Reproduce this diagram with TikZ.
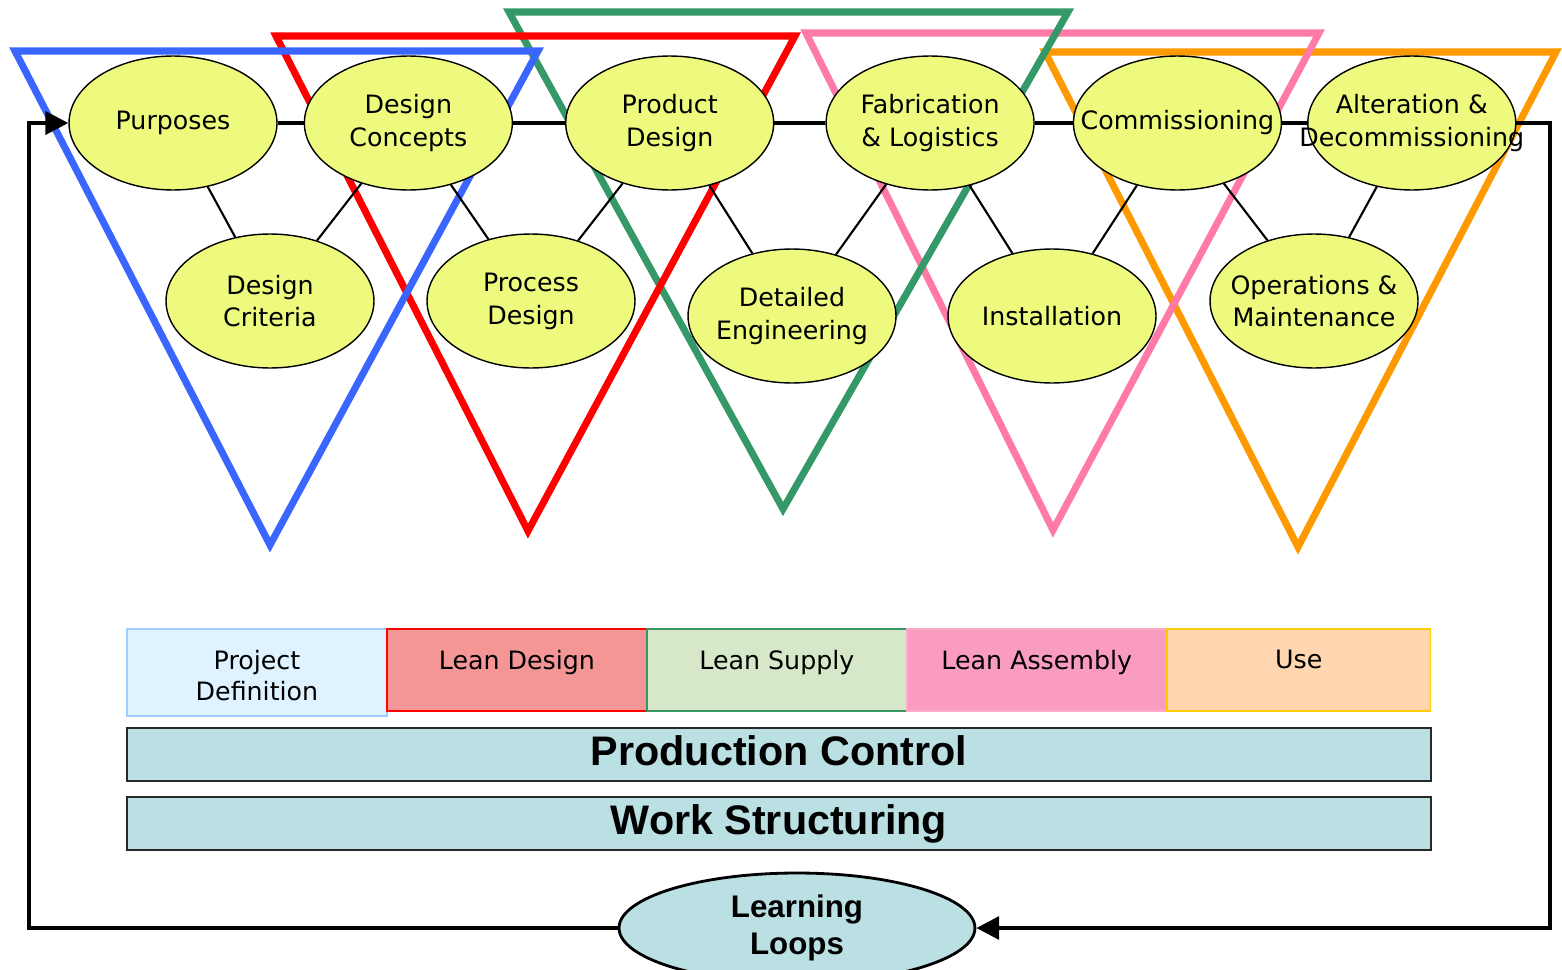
\documentclass[tikz,border=0pt]{standalone}
\usepackage{fontspec}
\usepackage{tikz}
\usetikzlibrary{positioning,shapes.geometric,arrows.meta,backgrounds}

\newfontfamily\stagefont{DejaVu Sans}
\newfontfamily\barfont{Liberation Sans}

\definecolor{stagefill}{RGB}{238,250,125}
\definecolor{triblue}{RGB}{58,102,255}
\definecolor{trired}{RGB}{255,0,0}
\definecolor{trigreen}{RGB}{52,152,104}
\definecolor{tripink}{RGB}{255,122,166}
\definecolor{triorange}{RGB}{255,153,0}
\definecolor{barfill}{RGB}{186,224,227}
\definecolor{barline}{RGB}{40,40,40}
\definecolor{pdfill}{RGB}{222,242,255}
\definecolor{pdline}{RGB}{160,205,255}
\definecolor{ldfill}{RGB}{244,150,150}
\definecolor{lsfill}{RGB}{214,232,200}
\definecolor{lsline}{RGB}{60,150,100}
\definecolor{lafill}{RGB}{250,155,192}
\definecolor{laline}{RGB}{255,170,200}
\definecolor{usefill}{RGB}{255,214,176}
\definecolor{useline}{RGB}{255,204,0}

\begin{document}
\begin{tikzpicture}[x=0.02cm,y=-0.02cm,
	stage/.style={ellipse,draw,line width=0.8pt,fill=stagefill,minimum width=4.16cm,minimum height=2.68cm,inner sep=0pt},
	stagetxt/.style={align=center,inner sep=0pt,font=\stagefont\fontsize{14.4}{18.7}\selectfont},
	link/.style={draw,line width=1.2pt},
	chain/.style={draw,line width=2pt},
	tri/.style={line width=4pt},
	phase/.style={rectangle,draw,line width=0.8pt,anchor=north west,outer sep=0pt,minimum width=5.2cm,minimum height=1.64cm,inner sep=0pt},
	phasetxt/.style={anchor=north,yshift=-8.5pt,align=center,font=\stagefont\fontsize{14.4}{17.6}\selectfont},
	bar/.style={rectangle,draw=barline,line width=1.5pt,fill=barfill,minimum width=26.08cm,minimum height=1.06cm,inner sep=0pt,text height=17pt,text depth=5pt,font=\barfont\bfseries\fontsize{23.5}{28}\selectfont},
	loopnode/.style={ellipse,draw,line width=1.6pt,fill=barfill,minimum width=7.12cm,minimum height=2.2cm,inner sep=0pt,align=center,font=\barfont\bfseries\fontsize{17.8}{21}\selectfont},
	loopline/.style={line width=2.2pt,-{Triangle[length=13pt,width=13pt]}}]
	\useasboundingbox (0,0) rectangle (1562,970);

	% stages of the delivery system
	\node[stage,label={[stagetxt]center:Purposes}] (s_0) at (173,123) {};
	\node[stage,right=0.52cm of s_0,label={[stagetxt]center:{Design\\Concepts}}] (s_1) {};
	\node[stage,right=1.04cm of s_1,label={[stagetxt]center:{Product\\Design}}] (s_2) {};
	\node[stage,right=1.02cm of s_2,label={[stagetxt]center:{Fabrication\\\& Logistics}}] (s_3) {};
	\node[stage,right=0.76cm of s_3,label={[stagetxt]center:Commissioning}] (s_4) {};
	\node[stage,right=0.50cm of s_4,label={[stagetxt]center:{Alteration \&\\Decommissioning}}] (s_5) {};

	\node[stage,label={[stagetxt]center:{Design\\Criteria}}] (b_0) at (270,301) {};
	\node[stage,label={[stagetxt]center:{Process\\Design}}] (b_1) at (531,301) {};
	\node[stage,label={[stagetxt]center:{Detailed\\Engineering}}] (b_2) at (792,316) {};
	\node[stage,label={[stagetxt]center:Installation}] (b_3) at (1052,316) {};
	\node[stage,label={[stagetxt]center:{Operations \&\\Maintenance}}] (b_4) at (1314,301) {};

	\begin{scope}[on background layer]
		% phase triangles
		\draw[tri,triorange] (1045,52) -- (1556,52) -- (1298,547) -- cycle;
		\draw[tri,tripink] (806,33) -- (1319,33) -- (1053,530) -- cycle;
		\draw[tri,trigreen] (509,12) -- (1068,12) -- (783,509) -- cycle;
		\draw[tri,trired] (276,36) -- (795,36) -- (528,531) -- cycle;
		\draw[tri,triblue] (15,51) -- (538,51) -- (270,545) -- cycle;

		\path[chain]
			(s_0) edge (s_1)
			(s_1) edge (s_2)
			(s_2) edge (s_3)
			(s_3) edge (s_4)
			(s_4) edge (s_5);
		\path[link]
			(s_0) edge (b_0)
			(s_1) edge (b_0)
			(s_1) edge (b_1)
			(s_2) edge (b_1)
			(s_2) edge (b_2)
			(s_3) edge (b_2)
			(s_3) edge (b_3)
			(s_4) edge (b_3)
			(s_4) edge (b_4)
			(s_5) edge (b_4);
	\end{scope}

	% lean project phases
	\node[phase,fill=pdfill,draw=pdline,minimum height=1.74cm,label={[phasetxt]north:{Project\\Definition}}] (ph_0) at (127,629) {};
	\node[phase,fill=ldfill,draw=trired,label={[phasetxt]north:Lean Design}] (ph_1) at (ph_0.north east) {};
	\node[phase,fill=lsfill,draw=lsline,label={[phasetxt]north:Lean Supply}] (ph_2) at (ph_1.north east) {};
	\node[phase,fill=lafill,draw=laline,label={[phasetxt]north:Lean Assembly}] (ph_3) at (ph_2.north east) {};
	\node[phase,fill=usefill,draw=useline,minimum width=5.28cm,label={[phasetxt]north:Use}] (ph_4) at (ph_3.north east) {};

	\node[bar] (pc) at (779,754.5) {Production Control};
	\node[bar] (ws) at (779,823.5) {Work Structuring};
	\node[loopnode] (ll) at (797,928) {Learning\\Loops};

	% feedback loop
	\coordinate (c_tl) at (29,123);
	\coordinate (c_bl) at (29,928);
	\coordinate (c_tr) at (1550,123);
	\coordinate (c_br) at (1550,928);
	\draw[loopline] (ll.west) -- (c_bl) -- (c_tl) -- (s_0.west);
	\draw[loopline] (s_5.east) -- (c_tr) -- (c_br) -- (ll.east);
\end{tikzpicture}
\end{document}
